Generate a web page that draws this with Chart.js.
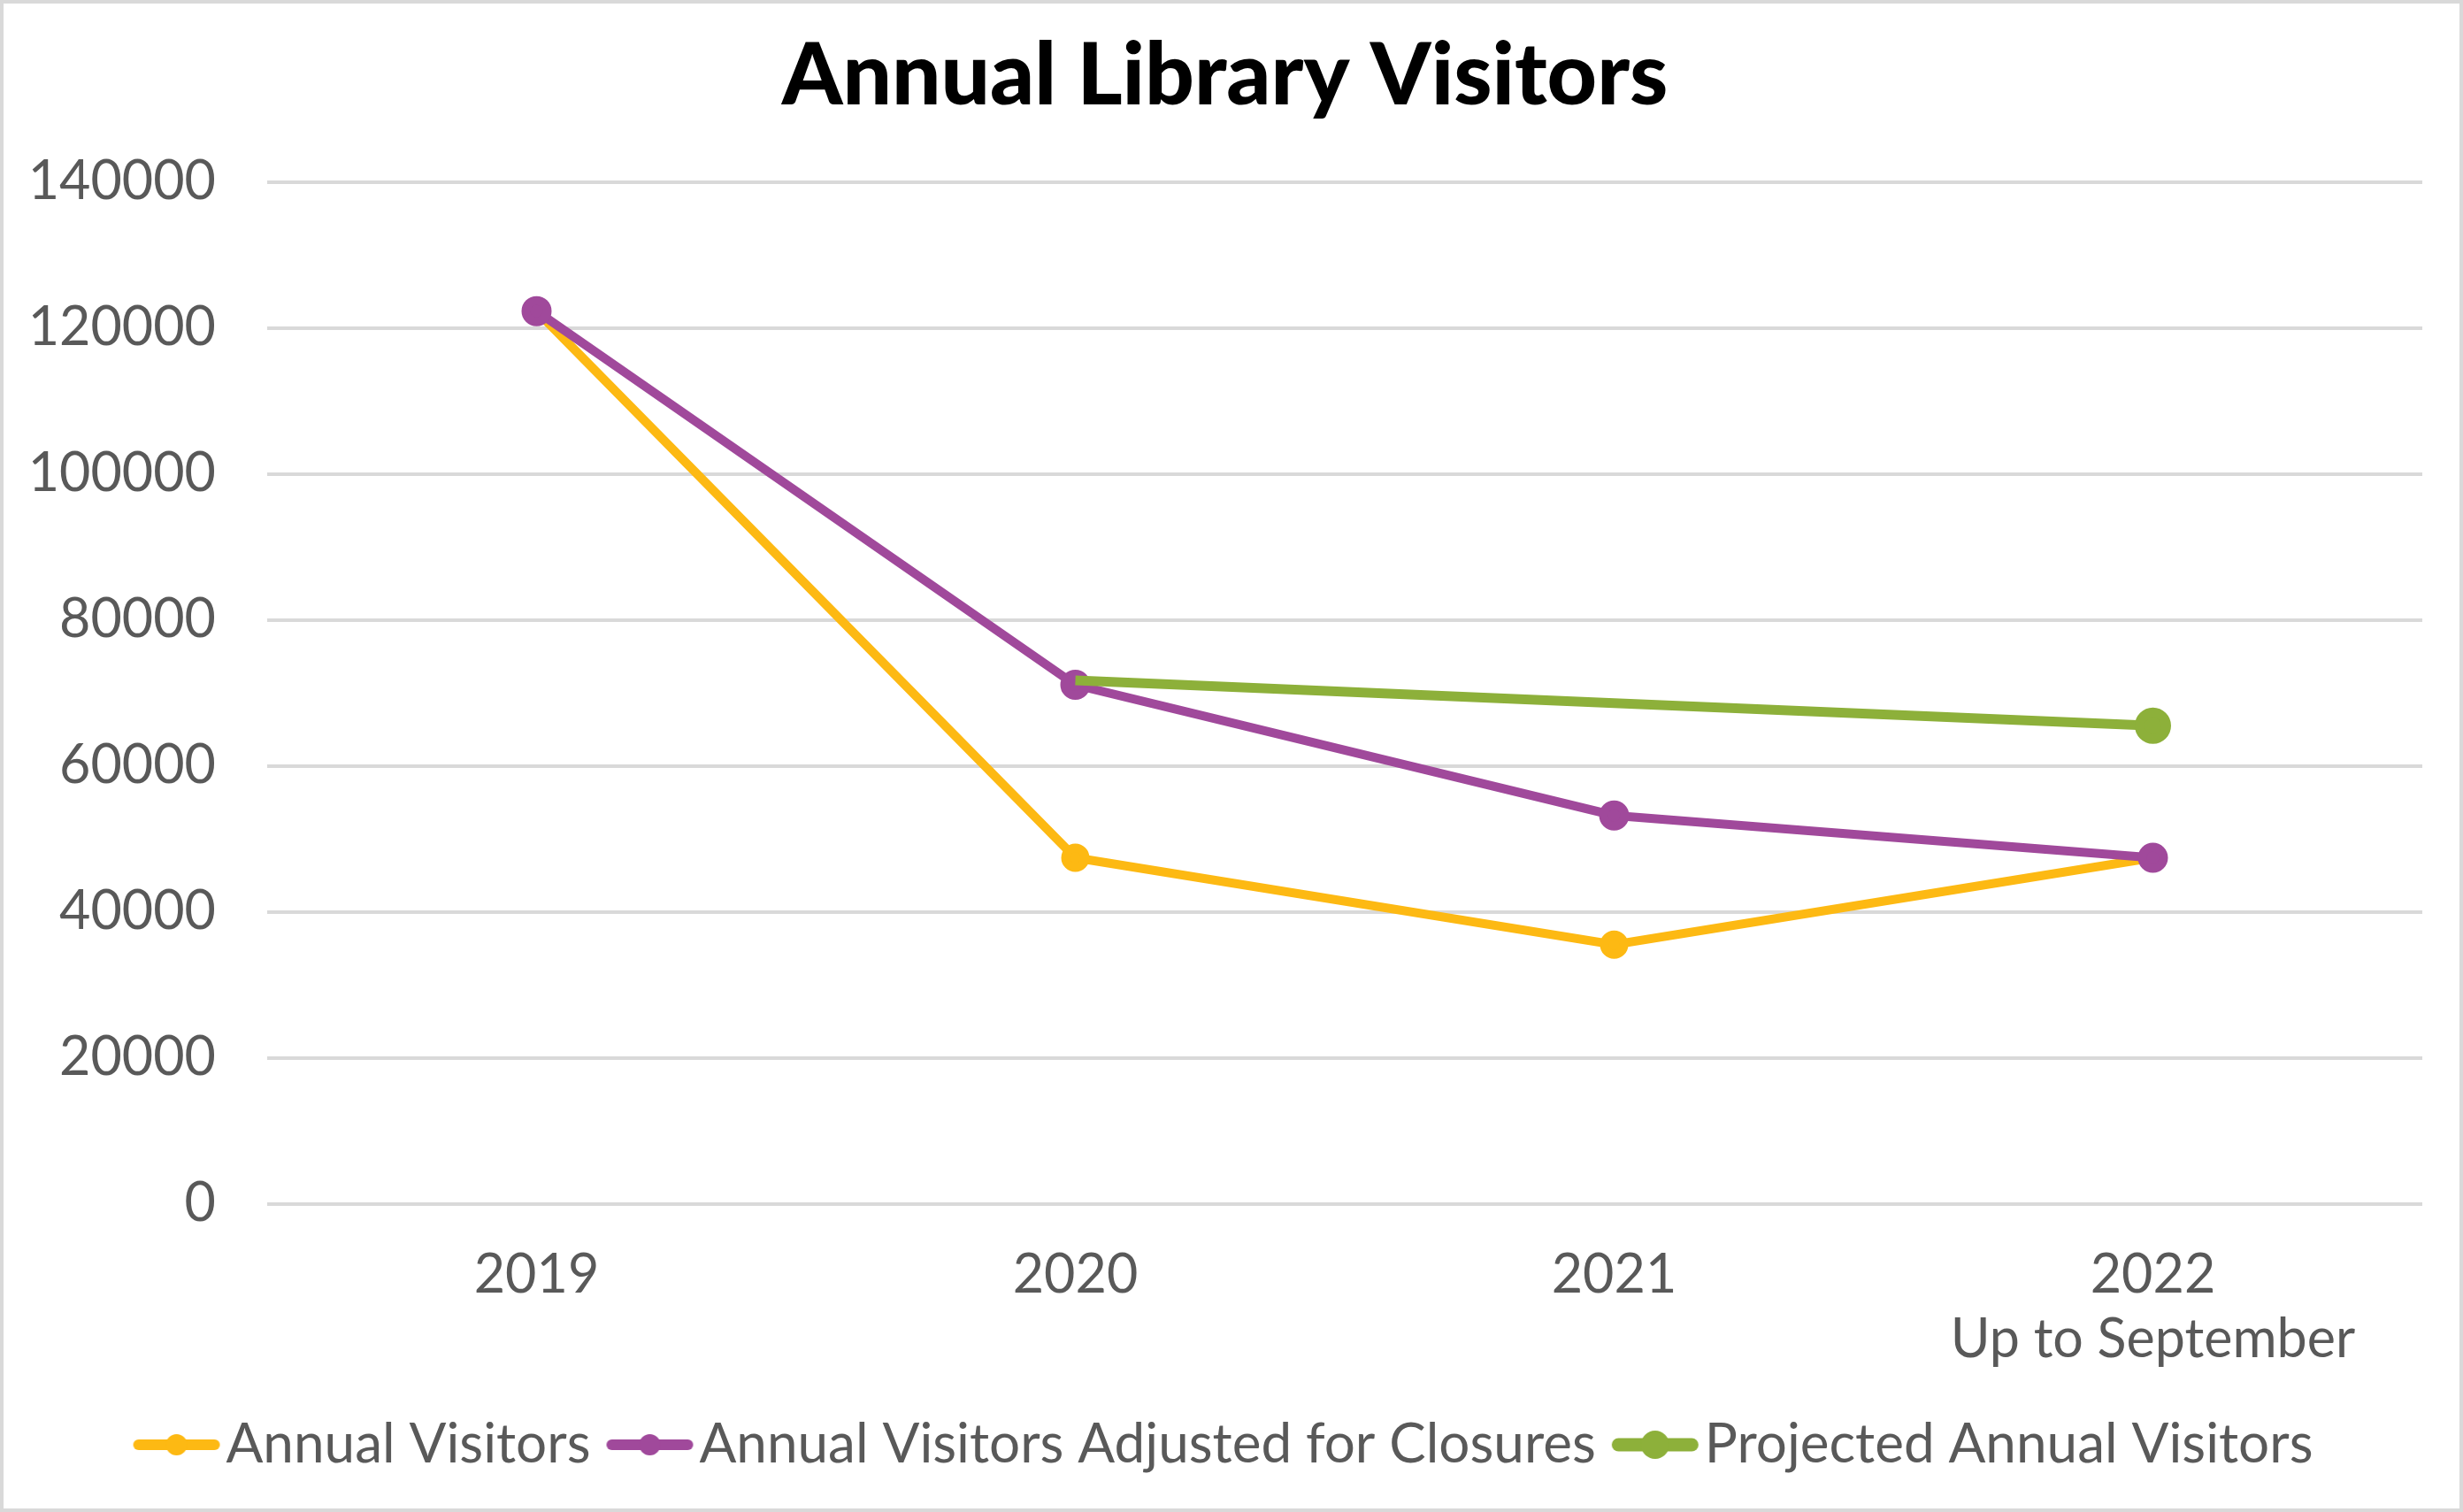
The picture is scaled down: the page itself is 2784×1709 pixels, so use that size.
<!DOCTYPE html>
<html>
<head>
<meta charset="utf-8">
<script src="https://cdn.jsdelivr.net/npm/chart.js@4/dist/chart.umd.min.js"></script>
<style>
  html, body { margin: 0; padding: 0; background: #fff; }
  #wrap { width: 2784px; height: 1709px; box-sizing: border-box; border: 4px solid #d9d9d9; position: relative; }
</style>
</head>
<body>
<div id="wrap"><canvas id="grafico"></canvas></div>
<script>
    const anos = ['2019', '2020', '2021', ['2022', 'Up to September']];
    const visitantes = [122300, 47400, 35500, 47400];
    const ajustados = [122300, 71100, 53200, 47400];
    const projetados = [null, 71700, 68600, 65500];
    const nomes = ['Annual Visitors', 'Annual Visitors Adjusted for Closures', 'Projected Annual Visitors'];
    const cores = ['#fdb913', '#a0499b', '#8db03a'];

    // icone da legenda: linha com bolinha no meio
    // o canvas sobra pra esquerda pra o texto ficar colado na linha
    function iconeLegenda(cor, largura, raio) {
        const c = document.createElement('canvas');
        c.width = 126;
        c.height = 40;
        const ctx = c.getContext('2d');
        ctx.strokeStyle = cor;
        ctx.lineWidth = largura;
        ctx.lineCap = 'round';
        ctx.beginPath();
        ctx.moveTo(24 + largura / 2, 20);
        ctx.lineTo(122 - largura / 2, 20);
        ctx.stroke();
        ctx.fillStyle = cor;
        ctx.beginPath();
        ctx.arc(73, 20, raio, 0, Math.PI * 2);
        ctx.fill();
        return c;
    }
    const icones = [
        iconeLegenda(cores[0], 12, 12),
        iconeLegenda(cores[1], 12, 12),
        iconeLegenda(cores[2], 15, 16)
    ];

    const data = {
        labels: anos,
        datasets: [{
            label: nomes[0],
            data: visitantes,
            borderColor: cores[0],
            backgroundColor: cores[0],
            borderWidth: 10,
            pointRadius: 11,
            pointHoverRadius: 11,
            order: 2
        },
        {
            label: nomes[1],
            data: ajustados,
            borderColor: cores[1],
            backgroundColor: cores[1],
            borderWidth: 10,
            pointRadius: 12,
            pointHoverRadius: 12,
            order: 1
        },
        {
            label: nomes[2],
            data: projetados,
            borderColor: cores[2],
            backgroundColor: cores[2],
            borderWidth: 11,
            pointRadius: [0, 0, 0, 15],
            pointHoverRadius: [0, 0, 0, 15],
            spanGaps: true,
            order: 0
        }]
    };

    const config = {
        type: 'line',
        data: data,
        options: {
            responsive: true,
            maintainAspectRatio: false,
            animation: false,
            layout: {
                padding: { top: 20, left: 27, right: 42, bottom: 31 }
            },
            scales: {
                x: {
                    offset: true,
                    grid: { display: false },
                    border: { display: false },
                    afterFit: function (scale) {
                        scale.height -= 7;
                    },
                    ticks: {
                        color: '#595959',
                        padding: 36,
                        font: { family: 'Lato', size: 61 }
                    }
                },
                y: {
                    min: 0,
                    max: 140000,
                    grid: { color: '#d9d9d9', lineWidth: 4, drawTicks: false },
                    border: { display: false },
                    afterFit: function (scale) {
                        scale.width = 271;
                    },
                    ticks: {
                        stepSize: 20000,
                        color: '#595959',
                        padding: 58,
                        font: { family: 'Lato', size: 61 },
                        callback: function (value) {
                            return String(value);
                        }
                    }
                }
            },
            plugins: {
                title: {
                    display: true,
                    text: 'Annual Library Visitors',
                    color: '#000',
                    padding: { top: 4, bottom: 60 },
                    font: { family: 'Lato', size: 98, weight: '900' }
                },
                legend: {
                    position: 'bottom',
                    labels: {
                        usePointStyle: true,
                        pointStyleWidth: 70,
                        padding: 22,
                        color: '#595959',
                        font: { family: 'Lato', size: 62 },
                        generateLabels: function (chart) {
                            return nomes.map((n, i) => ({
                                text: n,
                                fillStyle: cores[i],
                                strokeStyle: cores[i],
                                fontColor: '#595959',
                                pointStyle: icones[i],
                                datasetIndex: i,
                                hidden: false
                            }));
                        }
                    }
                },
                tooltip: { enabled: false }
            }
        }
    };

    var ctx = document.getElementById('grafico');
    var grafico = new Chart(ctx, config);
</script>
</body>
</html>
